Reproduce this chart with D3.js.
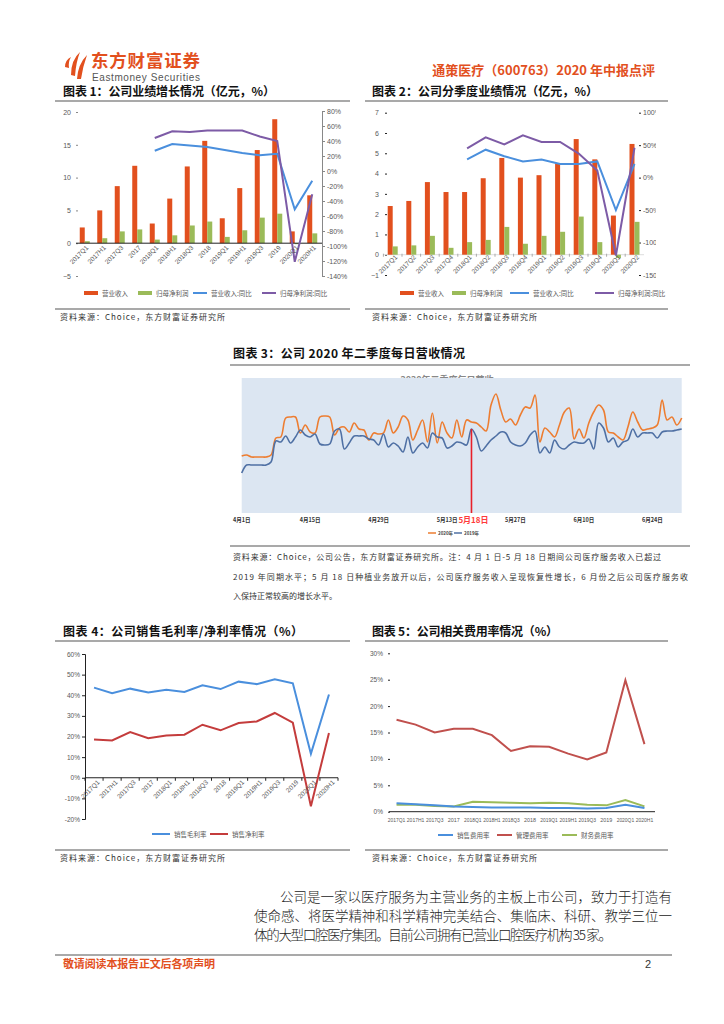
<!DOCTYPE html>
<html><head><meta charset="utf-8">
<script src="https://cdn.jsdelivr.net/npm/d3@7"></script>
<style>
body{margin:0;background:#fff}
svg{display:block}
text{font-family:"Liberation Sans","Noto Sans CJK SC",sans-serif}
.cjk{font-family:"Noto Sans CJK SC",sans-serif}
</style></head><body>
<svg width="724" height="1024"></svg>
<script>
// ---- data ----
const cumCats = ["2017Q1","2017H1","2017Q3","2017","2018Q1","2018H1","2018Q3","2018","2019Q1","2019H1","2019Q3","2019","2020Q1","2020H1"];
const cumRevenue = [2.4,5.0,8.7,11.8,3.0,6.8,11.7,15.6,3.8,8.4,14.2,18.9,1.8,7.3];
const cumProfit = [0.3,0.76,1.8,2.1,0.55,1.2,2.7,3.3,0.96,1.97,3.9,4.5,-0.15,1.5];
const cumRevenueYoY = [null,null,null,null,27,36,34,32,28,24,21,23,-51,-13];
const cumProfitYoY = [null,null,null,null,44,53,52,54,54,54,46,40,-121,-31];

const qCats = ["2017Q1","2017Q2","2017Q3","2017Q4","2018Q1","2018Q2","2018Q3","2018Q4","2019Q1","2019Q2","2019Q3","2019Q4","2020Q1","2020Q2"];
const qRevenue = [2.4,2.65,3.58,3.09,3.09,3.77,4.77,3.8,3.92,4.5,5.7,4.7,1.93,5.46];
const qProfit = [0.41,0.46,0.93,0.34,0.62,0.73,1.37,0.54,0.93,1.13,1.88,0.62,-0.16,1.62];
const qRevenueYoY = [null,null,null,null,28,43,33,25,28,21,21,25,-50,21];
const qProfitYoY = [null,null,null,null,45,62,51,65,55,55,37,11,-120,46];

// daily revenue index, Apr 1 .. Jun 30 (day 0..90)
const daily2020 = [57,58,56,56,56,56,58,75,76,95,96,96,80,88,81,80,96,97,96,78,85,86,81,90,84,83,73,80,79,80,
  93,80,86,97,93,73,83,93,71,100,70,91,80,75,93,76,93,91,90,86,82,108,119,103,91,94,88,98,106,105,
  118,71,85,81,76,88,101,105,74,84,75,90,101,108,103,81,80,76,73,86,101,91,83,84,85,88,113,93,96,88,95];
const daily2019 = [40,48,48,48,48,48,51,72,71,77,70,76,83,78,76,79,69,68,69,82,84,64,70,77,77,77,74,73,68,79,
  66,70,67,61,76,60,66,70,65,80,76,75,65,67,71,70,68,84,76,62,67,73,77,81,80,71,68,67,70,78,
  82,60,66,60,73,66,64,68,71,70,70,74,64,90,85,71,75,66,71,73,84,76,80,80,80,75,81,82,82,83,84];
const dayTicks = [0,14,28,42,56,70,84];
const dayTickLabels = ["4月1日","4月15日","4月29日","5月13日","5月27日","6月10日","6月24日"];
const openDay = 47, openDayLabel = "5月18日";
const dailyNames = ["2020年","2019年"];

const grossMargin = [43.7,41,43.2,41.3,42.7,41.6,44.8,43,46.6,45.4,47.7,45.8,11.6,40.4];
const netMargin = [18.6,18.1,22.1,19.2,20.5,20.9,25.7,23,26.5,27.3,31.4,26.7,-13.8,21.7];

const sellRate = [1.6,1.4,1.2,1.0,0.9,0.8,0.8,0.8,0.7,0.7,0.6,0.7,1.3,0.7];
const adminRate = [17.4,16.5,15,15.7,15.7,14.5,11.5,12.4,12.3,11,9.9,11.2,24.9,12.8];
const finRate = [1.3,1.3,1.1,1.0,1.9,1.8,1.7,1.6,1.7,1.6,1.3,1.2,2.2,1.0];

const RED = "#e2501e", GREEN = "#9bbb59", BLUE = "#4a8fdd", PURPLE = "#7d5ba6", GREY = "#595959";

const svg = d3.select("svg");
svg.append("rect").attr("width",724).attr("height",1024).attr("fill","#fff");

// ---- header ----
const logo = svg.append("g").attr("fill",RED);
logo.append("path").attr("d","M65,67 Q65,60 71,57 Q68,62 69,68 Z");
logo.append("path").attr("d","M71,75 Q71,60 80,52 Q76,62 75,76 Z");
logo.append("path").attr("d","M77,79 Q78,64 87,55 Q83,66 81,79 Z");
svg.append("text").attr("class","cjk").attr("x",91).attr("y",67).attr("font-size",17.5).attr("font-weight",700)
  .attr("fill",RED).attr("textLength",109).text("东方财富证券");
svg.append("text").attr("x",92).attr("y",81).attr("font-size",10).attr("fill","#555")
  .attr("textLength",108).text("Eastmoney Securities");
svg.append("text").attr("class","cjk").attr("x",655).attr("y",75).attr("text-anchor","end")
  .attr("font-size",13).attr("font-weight",700).attr("fill",RED).text("通策医疗（600763）2020 年中报点评");

function title(x, y, txt, len) {
  svg.append("text").attr("class","cjk").attr("x",x).attr("y",y).attr("font-size",12).attr("font-weight",700)
    .attr("fill","#111").attr("textLength",len).text(txt);
}
function hline(x1, x2, y) {
  svg.append("line").attr("x1",x1).attr("x2",x2).attr("y1",y).attr("y2",y).attr("stroke","#555").attr("stroke-width",1.2);
}
function source(x, y, txt, len) {
  const t = svg.append("text").attr("class","cjk").attr("x",x).attr("y",y).attr("font-size",8).attr("fill","#333").text(txt);
  if (len) t.attr("textLength",len);
}
function styleAxis(g, size) {
  g.selectAll("text").attr("font-size",size || 7).attr("fill",GREY);
  g.selectAll("line").attr("stroke","#888");
}
function legendRect(x, y, color, label) {
  svg.append("rect").attr("x",x).attr("y",y-3).attr("width",14).attr("height",4).attr("fill",color);
  svg.append("text").attr("class","cjk").attr("x",x+18).attr("y",y+2).attr("font-size",6.5).attr("fill",GREY).text(label);
}
function legendLine(x, y, color, label, w) {
  svg.append("line").attr("x1",x).attr("x2",x+(w||16)).attr("y1",y-1).attr("y2",y-1).attr("stroke",color).attr("stroke-width",2);
  svg.append("text").attr("class","cjk").attr("x",x+(w||16)+4).attr("y",y+2).attr("font-size",6.5).attr("fill",GREY).text(label);
}
function rotLabels(x, cats, y0, dx, dy) {
  svg.append("g").selectAll("text").data(cats).join("text")
    .attr("transform",d => "translate(" + (x(d) + x.bandwidth()/2 + dx) + "," + (y0 + dy) + ") rotate(-45)")
    .attr("text-anchor","end").attr("font-size",6.5).attr("fill",GREY).text(d => d);
}

// ---- chart 1 ----
title(63, 96, "图表 1：公司业绩增长情况（亿元，%）", 212);
hline(55, 350, 101);
{
  const x = d3.scaleBand().domain(cumCats).range([76,321]);
  const y = d3.scaleLinear().domain([-5,20]).range([276,112]);
  const yr = d3.scaleLinear().domain([-140,80]).range([276,111]);
  const c = d => x(d) + x.bandwidth()/2;
  const la = svg.append("g").attr("transform","translate(78,0)")
    .call(d3.axisLeft(y).tickValues([-5,0,5,10,15,20]).tickSize(2).tickPadding(5));
  la.select(".domain").remove(); styleAxis(la);
  const ra = svg.append("g").attr("transform","translate(322,0)")
    .call(d3.axisRight(yr).tickValues(d3.range(-140,81,20)).tickFormat(d => d + "%").tickSize(3).tickPadding(2));
  styleAxis(ra); ra.select(".domain").attr("stroke","#888");
  svg.append("g").selectAll("rect").data(cumCats).join("rect")
    .attr("x",d => c(d) - 5).attr("width",5)
    .attr("y",(d,i) => y(Math.max(0,cumRevenue[i]))).attr("height",(d,i) => Math.abs(y(cumRevenue[i]) - y(0))).attr("fill",RED);
  svg.append("g").selectAll("rect").data(cumCats).join("rect")
    .attr("x",d => c(d)).attr("width",5)
    .attr("y",(d,i) => y(Math.max(0,cumProfit[i]))).attr("height",(d,i) => Math.abs(y(cumProfit[i]) - y(0))).attr("fill",GREEN);
  svg.append("line").attr("x1",76).attr("x2",322).attr("y1",y(0)).attr("y2",y(0)).attr("stroke","#222").attr("stroke-width",1);
  const line = vals => d3.line().defined((d,i) => vals[i] != null).x(d => c(d)).y((d,i) => yr(vals[i]))(cumCats);
  svg.append("path").attr("d",line(cumRevenueYoY)).attr("fill","none").attr("stroke",BLUE).attr("stroke-width",2);
  svg.append("path").attr("d",line(cumProfitYoY)).attr("fill","none").attr("stroke",PURPLE).attr("stroke-width",2);
  rotLabels(x, cumCats, y(0), 4, 5);
  legendRect(84, 294, RED, "营业收入");
  legendRect(138, 294, GREEN, "归母净利润");
  legendLine(193, 294, BLUE, "营业收入:同比", 14);
  legendLine(262, 294, PURPLE, "归母净利润:同比", 14);
}
hline(55, 350, 309);
source(60, 320, "资料来源：Choice，东方财富证券研究所", 165);

// ---- chart 2 ----
title(372, 96, "图表 2：公司分季度业绩情况（亿元，%）", 226);
hline(365, 668, 101);
{
  const x = d3.scaleBand().domain(qCats).range([383.4,643.8]);
  const y = d3.scaleLinear().domain([-1,7]).range([275,112.7]);
  const yr = d3.scaleLinear().domain([-150,100]).range([275,112.7]);
  const c = d => x(d) + x.bandwidth()/2;
  const la = svg.append("g").attr("transform","translate(387,0)")
    .call(d3.axisLeft(y).ticks(8).tickSize(2).tickPadding(6));
  la.select(".domain").remove(); styleAxis(la); la.selectAll("line").attr("stroke","#222");
  svg.append("clipPath").attr("id","clipR").append("rect").attr("x",636).attr("y",100).attr("width",20).attr("height",190);
  const ra = svg.append("g").attr("clip-path","url(#clipR)").append("g").attr("transform","translate(639,0)")
    .call(d3.axisRight(yr).tickValues([-150,-100,-50,0,50,100]).tickFormat(d => d + "%").tickSize(2).tickPadding(2));
  ra.select(".domain").remove(); styleAxis(ra); ra.selectAll("line").attr("stroke","#222");
  svg.append("line").attr("x1",383).attr("x2",644).attr("y1",y(0)).attr("y2",y(0)).attr("stroke","#ddd");
  svg.append("g").selectAll("line").data(qCats).join("line")
    .attr("x1",d => x(d)).attr("x2",d => x(d)).attr("y1",y(0)-1).attr("y2",y(0)+2).attr("stroke","#aaa");
  svg.append("g").selectAll("rect").data(qCats).join("rect")
    .attr("x",d => c(d) - 5).attr("width",5)
    .attr("y",(d,i) => y(Math.max(0,qRevenue[i]))).attr("height",(d,i) => Math.abs(y(qRevenue[i]) - y(0))).attr("fill",RED);
  svg.append("g").selectAll("rect").data(qCats).join("rect")
    .attr("x",d => c(d)).attr("width",5)
    .attr("y",(d,i) => y(Math.max(0,qProfit[i]))).attr("height",(d,i) => Math.abs(y(qProfit[i]) - y(0))).attr("fill",GREEN);
  const line = vals => d3.line().defined((d,i) => vals[i] != null).x(d => c(d)).y((d,i) => yr(vals[i]))(qCats);
  svg.append("path").attr("d",line(qRevenueYoY)).attr("fill","none").attr("stroke",BLUE).attr("stroke-width",2);
  svg.append("path").attr("d",line(qProfitYoY)).attr("fill","none").attr("stroke",PURPLE).attr("stroke-width",2);
  rotLabels(x, qCats, y(0), 5, 3);
  legendRect(400, 294, RED, "营业收入");
  legendRect(452, 294, GREEN, "归母净利润");
  legendLine(510, 294, BLUE, "营业收入:同比", 19);
  legendLine(595, 294, PURPLE, "归母净利润:同比", 19);
}
hline(365, 668, 309);
source(372, 320, "资料来源：Choice，东方财富证券研究所", 165);

// ---- chart 3 ----
svg.append("text").attr("class","cjk").attr("x",233).attr("y",358).attr("font-size",12).attr("font-weight",700)
  .attr("fill","#111").attr("textLength",232).text("图表 3：公司 2020 年二季度每日营收情况");
hline(230, 690, 365);
{
  const x = d3.scaleLinear().domain([0,90]).range([241.7,681.7]);
  const y = d3.scaleLinear().domain([0,135]).range([513,378]);
  svg.append("text").attr("class","cjk").attr("x",447).attr("y",383).attr("text-anchor","middle")
    .attr("font-size",9).attr("font-weight",700).attr("fill","#888").text("2020年二季度每日营收");
  svg.append("rect").attr("x",x(0)).attr("y",y(135)).attr("width",x(90)-x(0)).attr("height",y(0)-y(135)).attr("fill","#dce6f2");
  const line = d3.line().x((d,i) => x(i)).y(d => y(d)).curve(d3.curveCatmullRom.alpha(0.5));
  svg.append("path").attr("d",line(daily2020)).attr("fill","none").attr("stroke","#ed7d31").attr("stroke-width",1.6);
  svg.append("path").attr("d",line(daily2019)).attr("fill","none").attr("stroke","#4f70a4").attr("stroke-width",1.6);
  svg.append("line").attr("x1",x(openDay)).attr("x2",x(openDay)).attr("y1",y(0)).attr("y2",y(daily2019[openDay]))
    .attr("stroke","#e8202a").attr("stroke-width",1.6);
  svg.append("g").selectAll("text").data(dayTicks).join("text")
    .attr("class","cjk").attr("x",d => x(d)).attr("y",522).attr("text-anchor","middle")
    .attr("font-size",5.5).attr("font-weight",700).attr("fill","#333").text((d,i) => dayTickLabels[i]);
  svg.append("text").attr("class","cjk").attr("x",x(openDay)+2).attr("y",523).attr("text-anchor","middle")
    .attr("font-size",8).attr("font-weight",700).attr("fill","#ff3b3b").text(openDayLabel);
  const lg = [["#ed7d31",428],["#4f70a4",454]];
  lg.forEach((l,i) => {
    svg.append("line").attr("x1",l[1]).attr("x2",l[1]+8).attr("y1",533).attr("y2",533).attr("stroke",l[0]).attr("stroke-width",1.5);
    svg.append("text").attr("class","cjk").attr("x",l[1]+10).attr("y",535).attr("font-size",4.5).attr("font-weight",700)
      .attr("fill","#444").text(dailyNames[i]);
  });
}
hline(230, 690, 546);
source(233, 560, "资料来源：Choice，公司公告，东方财富证券研究所。注：4 月 1 日-5 月 18 日期间公司医疗服务收入已超过", 428);
source(233, 580, "2019 年同期水平；5 月 18 日种植业务放开以后，公司医疗服务收入呈现恢复性增长，6 月份之后公司医疗服务收", 455);
source(233, 599, "入保持正常较高的增长水平。");

// ---- chart 4 ----
title(63, 636, "图表 4：公司销售毛利率/净利率情况（%）", 240);
hline(55, 350, 641);
{
  const x = d3.scaleBand().domain(cumCats).range([85,338]);
  const y = d3.scaleLinear().domain([-20,60]).range([819,654]);
  const c = d => x(d) + x.bandwidth()/2;
  const la = svg.append("g").attr("transform","translate(85,0)")
    .call(d3.axisLeft(y).tickValues(d3.range(-20,61,10)).tickFormat(d => d + "%").tickSize(3).tickPadding(2));
  styleAxis(la, 6.5); la.selectAll("line").attr("stroke","#222"); la.select(".domain").attr("stroke","#222");
  svg.append("line").attr("x1",85).attr("x2",338).attr("y1",y(0)).attr("y2",y(0)).attr("stroke","#222");
  svg.append("g").selectAll("line").data(cumCats.concat(["end"])).join("line")
    .attr("x1",(d,i) => 85 + i*x.step()).attr("x2",(d,i) => 85 + i*x.step())
    .attr("y1",y(0)).attr("y2",y(0)+3).attr("stroke","#222");
  const line = vals => d3.line().x(d => c(d)).y((d,i) => y(vals[i]))(cumCats);
  svg.append("path").attr("d",line(grossMargin)).attr("fill","none").attr("stroke",BLUE).attr("stroke-width",2);
  svg.append("path").attr("d",line(netMargin)).attr("fill","none").attr("stroke","#c43c3c").attr("stroke-width",2);
  rotLabels(x, cumCats, y(0), 6, 5);
  legendLine(152, 835, BLUE, "销售毛利率", 18);
  legendLine(210, 835, "#c43c3c", "销售净利率", 18);
}
hline(55, 350, 850);
source(60, 861, "资料来源：Choice，东方财富证券研究所", 165);

// ---- chart 5 ----
title(372, 636, "图表 5：公司相关费用率情况（%）", 186);
hline(365, 668, 641);
{
  const x = d3.scaleBand().domain(cumCats).range([387,654]);
  const y = d3.scaleLinear().domain([0,30]).range([811.7,653.3]);
  const c = d => x(d) + x.bandwidth()/2;
  const la = svg.append("g").attr("transform","translate(390,0)")
    .call(d3.axisLeft(y).tickValues(d3.range(0,31,5)).tickFormat(d => d + "%").tickSize(2).tickPadding(5));
  la.select(".domain").remove(); styleAxis(la, 6.5); la.selectAll("line").attr("stroke","#222");
  svg.append("line").attr("x1",389).attr("x2",655).attr("y1",y(0)).attr("y2",y(0)).attr("stroke","#222");
  const line = vals => d3.line().x(d => c(d)).y((d,i) => y(vals[i]))(cumCats);
  svg.append("path").attr("d",line(adminRate)).attr("fill","none").attr("stroke","#c0504d").attr("stroke-width",2);
  svg.append("path").attr("d",line(finRate)).attr("fill","none").attr("stroke",GREEN).attr("stroke-width",2);
  svg.append("path").attr("d",line(sellRate)).attr("fill","none").attr("stroke",BLUE).attr("stroke-width",2);
  svg.append("g").selectAll("text").data(cumCats).join("text")
    .attr("x",d => c(d)).attr("y",822).attr("text-anchor","middle").attr("font-size",5.5).attr("fill",GREY)
    .attr("textLength",d => d.length > 4 ? 17.5 : 12).attr("lengthAdjust","spacingAndGlyphs").text(d => d);
  legendLine(438, 836, BLUE, "销售费用率", 15);
  legendLine(497, 836, "#c0504d", "管理费用率", 15);
  legendLine(562, 836, GREEN, "财务费用率", 15);
}
hline(365, 668, 850);
source(372, 861, "资料来源：Choice，东方财富证券研究所", 165);

// ---- body text & footer ----
const body = [
  [280, 902, "公司是一家以医疗服务为主营业务的主板上市公司，致力于打造有", 392],
  [254, 921, "使命感、将医学精神和科学精神完美结合、集临床、科研、教学三位一", 418],
  [254, 940, "体的大型口腔医疗集团。目前公司拥有已营业口腔医疗机构 35 家。", 358]
];
body.forEach(b => {
  svg.append("text").attr("class","cjk").attr("x",b[0]).attr("y",b[1]).attr("font-size",13.5).attr("font-weight",300)
    .attr("fill","#222").attr("textLength",b[3]).text(b[2]);
});
hline(55, 672, 955);
svg.append("text").attr("class","cjk").attr("x",63).attr("y",968).attr("font-size",11).attr("font-weight",700)
  .attr("fill",RED).attr("textLength",152).text("敬请阅读本报告正文后各项声明");
svg.append("text").attr("x",645).attr("y",968).attr("font-size",11).attr("fill","#333").text("2");
</script>
</body></html>
